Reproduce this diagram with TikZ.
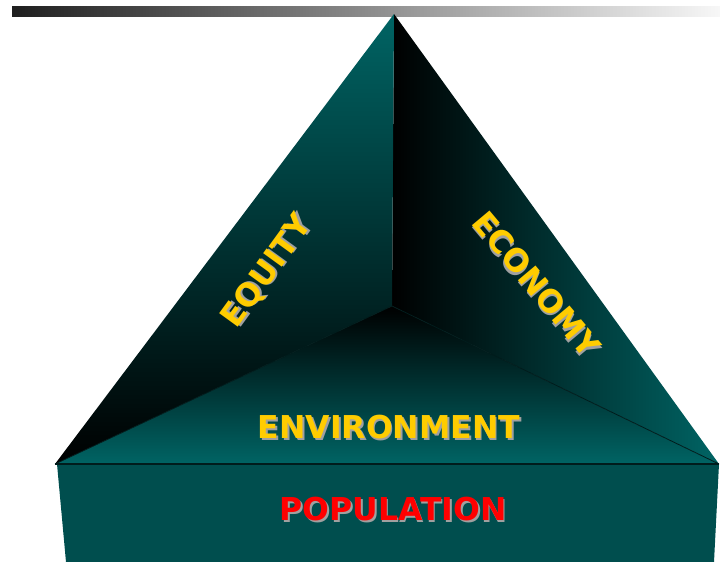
\documentclass[tikz,border=0pt]{standalone}
\usepackage{fontspec}
\setmainfont{DejaVu Sans}
\definecolor{tealA}{RGB}{0,100,100}
\definecolor{tealB}{RGB}{0,78,78}
\definecolor{gold}{RGB}{255,204,0}
\definecolor{popred}{RGB}{255,0,0}
\definecolor{shadowgray}{RGB}{160,160,160}
\definecolor{edgedark}{RGB}{0,28,28}
\newcommand{\shtext}[2]{\makebox[0pt][l]{\hspace{1.8pt}\raisebox{-1.8pt}{\textcolor{shadowgray}{#2}}}\textcolor{#1}{#2}}
\begin{document}
\begin{tikzpicture}[x=1pt,y=-1pt,
  lbl/.style={font=\fontsize{31.5}{32}\selectfont\bfseries, inner sep=0pt}]
\useasboundingbox (0,0) rectangle (720,562);
% top bar
\shade[left color=black!88, right color=white!97!black] (12,6) rectangle (720,16);
% front box
\fill[tealB] (57,464) -- (719,464) -- (714,562) -- (66,562) -- cycle;
% bottom face
\shade[top color=black, middle color=tealA!78!black, bottom color=tealA] (392,306) -- (55,464) -- (719,464) -- cycle;
% right face
\shade[left color=black, middle color=tealA!62!black, right color=tealA] (394,14) -- (392,306) -- (719,464) -- cycle;
% left face
\shade[top color=tealA, middle color=tealA!68!black, bottom color=black] (394,14) -- (55,464) -- (392,306) -- cycle;
% edges
\draw[edgedark, line width=0.8pt] (55,464) -- (392,306) -- (719,464);
\draw[edgedark, line width=1.5pt] (55,464) -- (719,464);
% labels
\node[lbl, rotate=54] (equity) at (268,272) {\shtext{gold}{EQUITY}};
\node[lbl, rotate=-50] (economy) at (536,285) {\shtext{gold}{ECONOMY}};
\node[lbl] (env) at (389,428) {\shtext{gold}{ENVIRONMENT}};
\node[lbl] (pop) at (393,510) {\shtext{popred}{POPULATION}};
\end{tikzpicture}
\end{document}
